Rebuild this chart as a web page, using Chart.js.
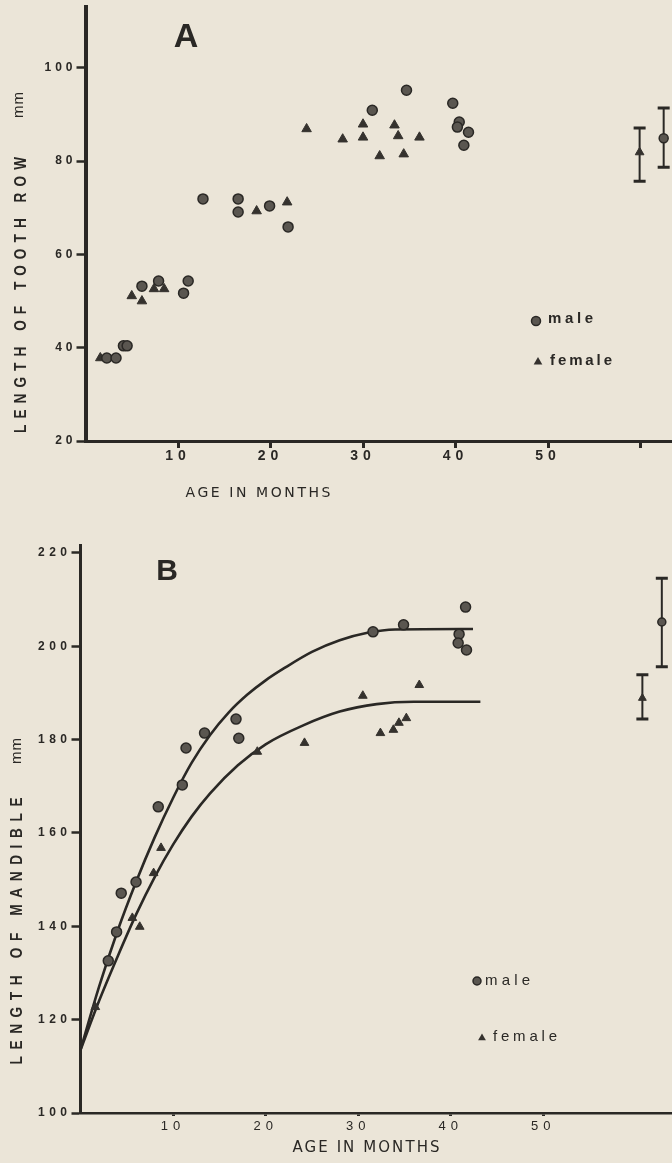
<!DOCTYPE html>
<html><head><meta charset="utf-8">
<script src="https://cdn.jsdelivr.net/npm/chart.js@4.4.1/dist/chart.umd.min.js"></script>
<style>
html,body{margin:0;padding:0;background:#ebe5d8;width:672px;height:1163px;overflow:hidden}
canvas{position:absolute;left:0;display:block}
#ca{top:0}
#cb{top:520px}
</style></head><body>
<canvas id="ca" width="672" height="520"></canvas>
<canvas id="cb" width="672" height="643"></canvas>
<script>
// ---------- Panel A: length of tooth row (mm) vs age (months) ----------
const aMaleAge   = [2.3,3.3,4.1,4.5,6.1,7.9,10.6,11.1,12.7,16.5,16.5,19.9,21.9,31.0,34.7,39.7,40.4,40.2,41.4,40.9];
const aMaleLen   = [37.8,37.8,40.4,40.4,53.2,54.3,51.7,54.3,71.9,71.9,69.1,70.4,65.9,90.9,95.2,92.4,88.4,87.3,86.2,83.4];
const aFemaleAge = [1.6,5.0,6.1,7.4,8.5,18.5,21.8,23.9,27.8,30.0,30.0,31.8,33.4,33.8,34.4,36.1];
const aFemaleLen = [37.8,51.1,50.0,52.6,52.6,69.3,71.2,86.9,84.7,87.9,85.1,81.1,87.7,85.4,81.5,85.1];
// adult mean and range: [female, male]
const aAdultAge  = [59.9, 62.5];
const aAdultMean = [81.9, 84.9];
const aAdultLow  = [75.7, 78.7];
const aAdultHigh = [87.1, 91.4];
const aXTicks = [10,20,30,40,50,60];
const aXTickLabels = ['10','20','30','40','50',''];
const aYTicks = [20,40,60,80,100];
const aYTickLabels = ['20','40','60','80','100'];

// ---------- Panel B: length of mandible (mm) vs age (months) ----------
const bMaleAge   = [3.0,3.9,4.4,6.0,8.4,11.0,11.4,13.4,16.8,17.1,31.6,34.9,41.6,40.9,40.8,41.7];
const bMaleLen   = [132.6,138.8,147.1,149.5,165.6,170.3,178.2,181.4,184.4,180.3,203.1,204.6,208.4,202.6,200.7,199.2];
const bFemaleAge = [1.6,5.6,6.4,7.9,8.7,19.1,24.2,30.5,32.4,33.8,34.4,35.2,36.6];
const bFemaleLen = [122.7,141.8,139.9,151.4,156.8,177.4,179.3,189.4,181.4,182.1,183.6,184.6,191.7];
// growth curves as drawn in the figure
const bMaleCurveAge   = [0,2,4,6,8,10,12,14,16,18,20,22,25,28,31,34,42.4];
const bMaleCurveLen   = [113.5,127,139,149.5,159,167.5,175,181,185.8,189.6,192.7,195.3,198.8,201.3,202.9,203.6,203.7];
const bFemaleCurveAge = [0,2,4,6,8,10,12,14,17,20,24,28,32,36,43.2];
const bFemaleCurveLen = [113.5,124,133.5,142.5,150.5,157.5,163.5,168.5,174.5,179,183,186,187.6,188.1,188.1];
// adult mean and range: [female, male]
const bAdultAge  = [60.7, 62.8];
const bAdultMean = [188.9, 205.2];
const bAdultLow  = [184.4, 195.6];
const bAdultHigh = [193.9, 214.6];
const bXTicks = [10,20,30,40,50];
const bXTickLabels = ['10','20','30','40','50'];
const bYTicks = [100,120,140,160,180,200,220];
const bYTickLabels = ['100','120','140','160','180','200','220'];

const INK = '#2a2825';
const MALE_FILL = '#5a5650';
const FEM_FILL = '#35322e';

const pts = (xs, ys) => xs.map((x, i) => ({x, y: ys[i]}));

function spacedLabels(scale, ls) {
  if (scale._spacedWrapped) return;
  const orig = scale.drawLabels.bind(scale);
  scale.drawLabels = function(ca) {
    const ctx = scale.ctx;
    ctx.save();
    ctx.letterSpacing = ls + 'px';
    orig(ca);
    ctx.restore();
  };
  scale._spacedWrapped = true;
}

function drawSpaced(ctx, it) {
  ctx.save();
  ctx.fillStyle = it.color || INK;
  ctx.font = it.font;
  ctx.letterSpacing = '0px';
  const condense = it.condense || 1;
  const n = [...it.text].length;
  const w0 = ctx.measureText(it.text).width * condense;
  let ls = it.ls || 0;
  if (it.span && n > 1) ls = (it.span - w0) / (n - 1) / condense;
  ctx.translate(it.x, it.y);
  if (it.rot) ctx.rotate(it.rot * Math.PI / 180);
  ctx.scale(condense, 1);
  ctx.letterSpacing = ls + 'px';
  ctx.textBaseline = 'middle';
  ctx.textAlign = 'left';
  const total = ctx.measureText(it.text).width - ls;
  const startX = it.align === 'left' ? 0 : -total / 2;
  ctx.fillText(it.text, startX, 0);
  ctx.restore();
}

function drawMarker(ctx, style, x, y, r) {
  ctx.save();
  ctx.beginPath();
  if (style === 'circle') {
    ctx.arc(x, y, r, 0, Math.PI * 2);
    ctx.fillStyle = MALE_FILL; ctx.fill();
    ctx.lineWidth = 1.5; ctx.strokeStyle = INK; ctx.stroke();
  } else {
    ctx.moveTo(x, y - r);
    ctx.lineTo(x + r * 0.866, y + r * 0.5);
    ctx.lineTo(x - r * 0.866, y + r * 0.5);
    ctx.closePath();
    ctx.fillStyle = FEM_FILL; ctx.fill();
  }
  ctx.restore();
}

const paperText = {
  id: 'paperText',
  afterDraw(chart, args, opts) {
    const ctx = chart.ctx;
    (opts.items || []).forEach(it => drawSpaced(ctx, it));
    (opts.legend || []).forEach(l => {
      drawMarker(ctx, l.style, l.mx, l.my, l.r);
      drawSpaced(ctx, {text: l.text, x: l.tx, y: l.ty, span: l.span, font: l.font, align: 'left'});
    });
  }
};

const errBars = {
  id: 'errBars',
  beforeDatasetsDraw(chart) {
    const ctx = chart.ctx, xs = chart.scales.x, ys = chart.scales.y;
    chart.data.datasets.forEach(ds => {
      if (!ds.errLow) return;
      ds.data.forEach((p, i) => {
        const x = xs.getPixelForValue(p.x);
        const y1 = ys.getPixelForValue(ds.errLow[i]);
        const y2 = ys.getPixelForValue(ds.errHigh[i]);
        ctx.save();
        ctx.strokeStyle = INK;
        ctx.lineWidth = 2;
        ctx.beginPath(); ctx.moveTo(x, y1); ctx.lineTo(x, y2); ctx.stroke();
        ctx.lineWidth = 3;
        ctx.beginPath();
        ctx.moveTo(x - 6, y1); ctx.lineTo(x + 6, y1);
        ctx.moveTo(x - 6, y2); ctx.lineTo(x + 6, y2);
        ctx.stroke();
        ctx.restore();
      });
    });
  }
};

function maleSet(data, r) {
  return {label: 'male', data, pointStyle: 'circle', pointRadius: r, pointBackgroundColor: MALE_FILL,
          pointBorderColor: INK, pointBorderWidth: 1.5, showLine: false, clip: false};
}
function femaleSet(data, r) {
  return {label: 'female', data, pointStyle: 'triangle', pointRadius: r, pointBackgroundColor: FEM_FILL,
          pointBorderColor: FEM_FILL, pointBorderWidth: 1, showLine: false, clip: false};
}
function curveSet(data) {
  return {label: 'curve', data, showLine: true, pointRadius: 0, borderColor: INK, borderWidth: 2.6,
          cubicInterpolationMode: 'monotone', fill: false, clip: false};
}

function axes(o) {
  const tickFont = (size, weight) => ({family: '"Liberation Sans", Arial, sans-serif', size, weight});
  return {
    x: {
      type: 'linear', min: o.xMin, max: o.xMax,
      afterBuildTicks: s => { s.ticks = o.xTicks.map(v => ({value: v})); },
      afterFit: s => { s.height = o.xHeight; spacedLabels(s, o.xLs); },
      ticks: {autoSkip: false, maxRotation: 0, padding: o.xPad, color: INK, font: tickFont(o.xFont, o.xWeight),
              callback: (v, i) => o.xLabels[i]},
      grid: {display: true, drawOnChartArea: false, drawTicks: true, tickLength: o.xTickLen, tickWidth: 3, tickColor: INK},
      border: {display: true, color: INK, width: o.xBorder}
    },
    y: {
      type: 'linear', min: o.yMin, max: o.yMax,
      afterBuildTicks: s => { s.ticks = o.yTicks.map(v => ({value: v})); },
      afterFit: s => { s.width = o.yWidth; spacedLabels(s, o.yLs); },
      ticks: {padding: 0, color: INK, font: tickFont(12, 'bold'), callback: (v, i) => o.yLabels[i]},
      grid: {display: true, drawOnChartArea: false, drawTicks: true, tickLength: 9, tickWidth: 2.5, tickColor: INK},
      border: {display: true, color: INK, width: o.yBorder}
    }
  };
}

const common = {
  responsive: false, animation: false, devicePixelRatio: 1, events: [],
};

// ---------- Chart A ----------
new Chart(document.getElementById('ca'), {
  type: 'scatter',
  data: {
    datasets: [
      maleSet(pts(aMaleAge, aMaleLen), 5),
      femaleSet(pts(aFemaleAge, aFemaleLen), 5.5),
      Object.assign(femaleSet(pts(aAdultAge.slice(0,1), aAdultMean.slice(0,1)), 5),
        {errLow: aAdultLow.slice(0,1), errHigh: aAdultHigh.slice(0,1), label: 'female adult'}),
      Object.assign(maleSet(pts(aAdultAge.slice(1), aAdultMean.slice(1)), 4.5),
        {errLow: aAdultLow.slice(1), errHigh: aAdultHigh.slice(1), label: 'male adult'})
    ]
  },
  options: Object.assign({}, common, {
    layout: {autoPadding: false, padding: {top: 7, left: 0, right: 0, bottom: 0}},
    scales: axes({xMin: 0, xMax: 63.4, xTicks: aXTicks, xLabels: aXTickLabels, xHeight: 79, xLs: 5, xPad: 0,
                  xFont: 14, xWeight: 'bold', xTickLen: 7, xBorder: 3,
                  yMin: 20, yMax: 113, yTicks: aYTicks, yLabels: aYTickLabels, yWidth: 85.5, yLs: 4, yBorder: 4}),
    plugins: {
      legend: {display: false}, tooltip: {enabled: false},
      paperText: {
        items: [
          {text: 'A', x: 186, y: 38, font: 'bold 34px "Liberation Sans", Arial, sans-serif'},
          {text: 'LENGTH OF TOOTH ROW', x: 21, y: 295, span: 276, rot: -90, condense: 0.8,
           font: 'bold 17px "Liberation Sans", Arial, sans-serif'},
          {text: 'mm', x: 19, y: 105, rot: -90, ls: 1, font: '15px "Liberation Sans", Arial, sans-serif'},
          {text: 'AGE IN MONTHS', x: 258, y: 493, span: 145, font: '14px "DejaVu Sans", sans-serif'}
        ],
        legend: [
          {style: 'circle', mx: 536, my: 321, r: 4.5, text: 'male', tx: 548, ty: 319, span: 45,
           font: 'bold 15px "Liberation Sans", Arial, sans-serif'},
          {style: 'triangle', mx: 538, my: 362, r: 5, text: 'female', tx: 550, ty: 361, span: 62,
           font: 'bold 15px "Liberation Sans", Arial, sans-serif'}
        ]
      }
    }
  }),
  plugins: [errBars, paperText]
});

// ---------- Chart B ----------
new Chart(document.getElementById('cb'), {
  type: 'scatter',
  data: {
    datasets: [
      maleSet(pts(bMaleAge, bMaleLen), 5),
      femaleSet(pts(bFemaleAge, bFemaleLen), 5),
      Object.assign(femaleSet(pts(bAdultAge.slice(0,1), bAdultMean.slice(0,1)), 4.5),
        {errLow: bAdultLow.slice(0,1), errHigh: bAdultHigh.slice(0,1), label: 'female adult'}),
      Object.assign(maleSet(pts(bAdultAge.slice(1), bAdultMean.slice(1)), 4),
        {errLow: bAdultLow.slice(1), errHigh: bAdultHigh.slice(1), label: 'male adult'}),
      curveSet(pts(bMaleCurveAge, bMaleCurveLen)),
      curveSet(pts(bFemaleCurveAge, bFemaleCurveLen))
    ]
  },
  options: Object.assign({}, common, {
    layout: {autoPadding: false, padding: {top: 25, left: 0, right: 0, bottom: 0}},
    scales: axes({xMin: 0, xMax: 63.9, xTicks: bXTicks, xLabels: bXTickLabels, xHeight: 50, xLs: 5, xPad: 3,
                  xFont: 13, xWeight: 'normal', xTickLen: 3, xBorder: 2.5,
                  yMin: 100, yMax: 221.7, yTicks: bYTicks, yLabels: bYTickLabels, yWidth: 80.5, yLs: 4.5, yBorder: 3}),
    plugins: {
      legend: {display: false}, tooltip: {enabled: false},
      paperText: {
        items: [
          {text: 'B', x: 167, y: 52, font: 'bold 30px "Liberation Sans", Arial, sans-serif'},
          {text: 'LENGTH OF MANDIBLE', x: 17, y: 411, span: 267, rot: -90, condense: 0.8,
           font: 'bold 17px "Liberation Sans", Arial, sans-serif'},
          {text: 'mm', x: 17, y: 231, rot: -90, ls: 1, font: '15px "Liberation Sans", Arial, sans-serif'},
          {text: 'AGE IN MONTHS', x: 366, y: 628, span: 147, font: '15px "DejaVu Sans", sans-serif'}
        ],
        legend: [
          {style: 'circle', mx: 477, my: 461, r: 4, text: 'male', tx: 485, ty: 461, span: 45,
           font: '15px "Liberation Sans", Arial, sans-serif'},
          {style: 'triangle', mx: 482, my: 518, r: 4.5, text: 'female', tx: 493, ty: 517, span: 64,
           font: '15px "Liberation Sans", Arial, sans-serif'}
        ]
      }
    }
  }),
  plugins: [errBars, paperText]
});
</script>
</body></html>
